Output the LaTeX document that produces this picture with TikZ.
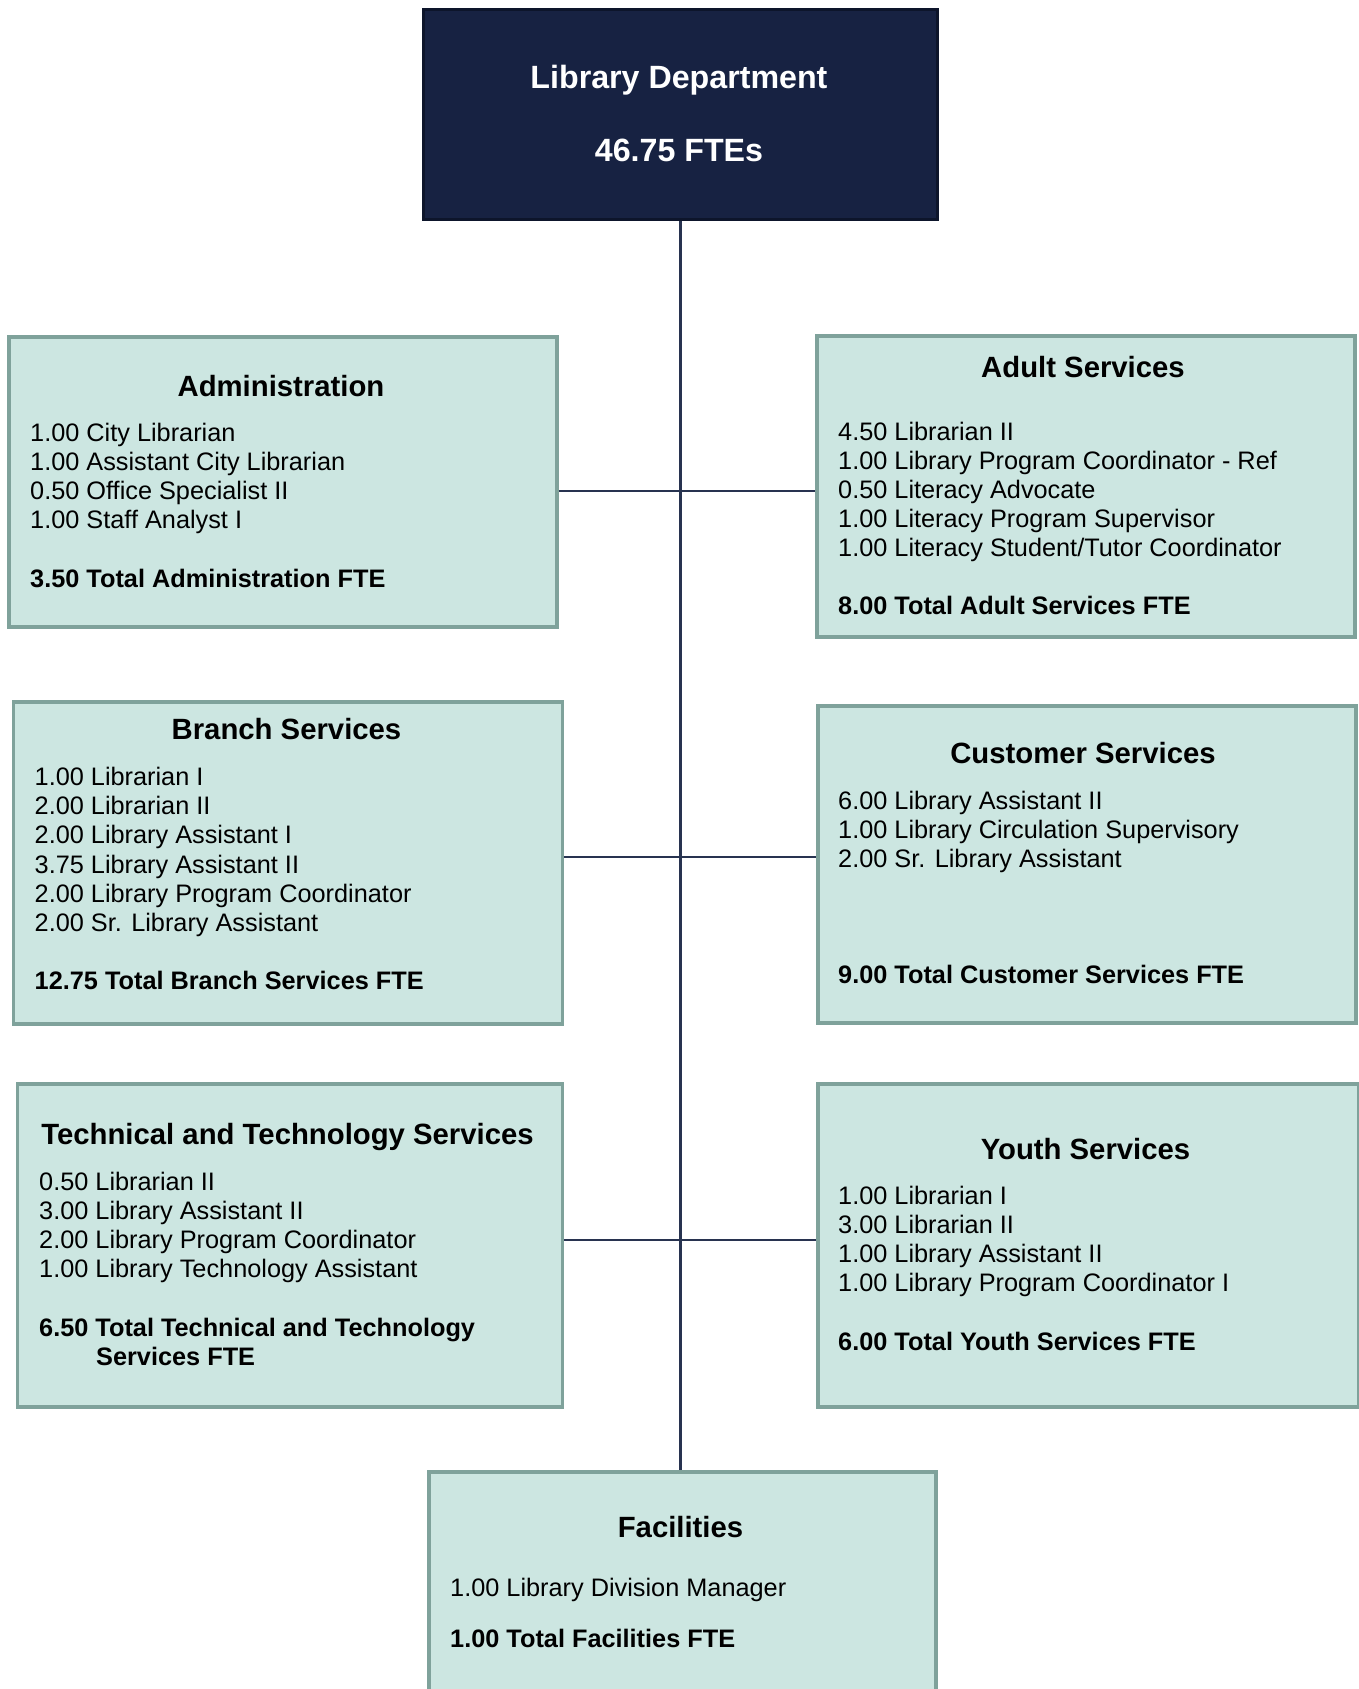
\documentclass[tikz,border=0pt]{standalone}
\usepackage{fontspec}
\setmainfont{Liberation Sans}
\definecolor{boxfill}{HTML}{CCE6E1}
\definecolor{boxline}{HTML}{7FA29B}
\definecolor{topfill}{HTML}{172242}
\definecolor{topline}{HTML}{0D152B}
\definecolor{connline}{HTML}{283350}
\begin{document}
\begin{tikzpicture}[x=1pt,y=-1pt,
  deptbox/.style={draw=boxline, fill=boxfill, line width=3.8pt, rectangle, inner sep=0pt, anchor=north west},
  headbox/.style={draw=topline, fill=topfill, line width=3pt, rectangle, inner sep=0pt, anchor=north west},
  conn/.style={draw=connline, line width=2.3pt},
  ttl/.style={font={\fontsize{29.3}{34}\selectfont\bfseries}, inner sep=0pt, anchor=base},
  headtxt/.style={font={\fontsize{32.2}{38}\selectfont\bfseries}, text=white, inner sep=0pt, anchor=base},
  lst/.style={font={\fontsize{25.3}{29.1}\selectfont}, align=left, inner sep=0pt, anchor=north west},
  tot/.style={font={\fontsize{25.3}{29.1}\selectfont\bfseries}, align=left, inner sep=0pt, anchor=north west}
]
\useasboundingbox (0,0) rectangle (1359,1689);
\clip (0,0) rectangle (1359,1689);

% boxes
\node[headbox, minimum width=514pt, minimum height=210pt] (top) at (422,7.5) {};
\node[deptbox, minimum width=548pt, minimum height=290pt] (admin) at (7,335) {};
\node[deptbox, minimum width=538pt, minimum height=301pt] (adult) at (815,334) {};
\node[deptbox, minimum width=549pt, minimum height=322pt] (branch) at (11.5,700) {};
\node[deptbox, minimum width=538pt, minimum height=317pt] (cust) at (816,704) {};
\node[deptbox, minimum width=545pt, minimum height=323pt] (tech) at (15.5,1082) {};
\node[deptbox, minimum width=541pt, minimum height=323pt] (youth) at (816,1082) {};
\node[deptbox, minimum width=507pt, minimum height=260pt] (fac) at (427,1470) {};

% connectors
\draw[conn] (top.south) -- (top.south |- fac.north);
\draw[conn] (admin.east |- 0,491) -- (adult.west |- 0,491);
\draw[conn] (branch.east |- 0,857) -- (cust.west |- 0,857);
\draw[conn] (tech.east |- 0,1240) -- (youth.west |- 0,1240);

% head text
\node[headtxt] (toptitle) at (679,88) {Library Department};
\node[headtxt] (topfte) at (679,161.5) {46.75 FTEs};

% Administration
\node[ttl] (admint) at (281,396) {Administration};
\node[lst] (adminl) at (30,422.7) {1.00 City Librarian\\1.00 Assistant City Librarian\\0.50 Office Specialist II\\1.00 Staff Analyst I};
\node[tot] (admintot) at (30,568.7) {3.50 Total Administration FTE};

% Adult Services
\node[ttl] (adultt) at (1083,377.5) {Adult Services};
\node[lst] (adultl) at (838,421.7) {4.50 Librarian II\\1.00 Library Program Coordinator - Ref\\0.50 Literacy Advocate\\1.00 Literacy Program Supervisor\\1.00 Literacy Student/Tutor Coordinator};
\node[tot] (adulttot) at (838,595.7) {8.00 Total Adult Services FTE};

% Branch Services
\node[ttl] (brancht) at (286.5,739.5) {Branch Services};
\node[lst] (branchl) at (34.5,767.2) {1.00 Librarian I\\2.00 Librarian II\\2.00 Library Assistant I\\3.75 Library Assistant II\\2.00 Library Program Coordinator\\2.00 Sr. Library Assistant};
\node[tot] (branchtot) at (34.5,970.7) {12.75 Total Branch Services FTE};

% Customer Services
\node[ttl] (custt) at (1083,763.5) {Customer Services};
\node[lst] (custl) at (838,790.7) {6.00 Library Assistant II\\1.00 Library Circulation Supervisory\\2.00 Sr. Library Assistant};
\node[tot] (custtot) at (838,965.3) {9.00 Total Customer Services FTE};

% Technical and Technology Services
\node[ttl] (techt) at (287.5,1144.5) {Technical and Technology Services};
\node[lst] (techl) at (39,1171.7) {0.50 Librarian II\\3.00 Library Assistant II\\2.00 Library Program Coordinator\\1.00 Library Technology Assistant};
\node[tot] (techtot) at (39,1317.7) {6.50 Total Technical and Technology\\\hspace*{57pt}Services FTE};

% Youth Services
\node[ttl] (youtht) at (1085.5,1159.5) {Youth Services};
\node[lst] (youthl) at (838,1186.1) {1.00 Librarian I\\3.00 Librarian II\\1.00 Library Assistant II\\1.00 Library Program Coordinator I};
\node[tot] (youthtot) at (838,1331.7) {6.00 Total Youth Services FTE};

% Facilities
\node[ttl] (fact) at (680.5,1537.5) {Facilities};
\node[lst] (facl) at (450,1577.7) {1.00 Library Division Manager};
\node[tot] (factot) at (450,1628.7) {1.00 Total Facilities FTE};
\end{tikzpicture}
\end{document}
